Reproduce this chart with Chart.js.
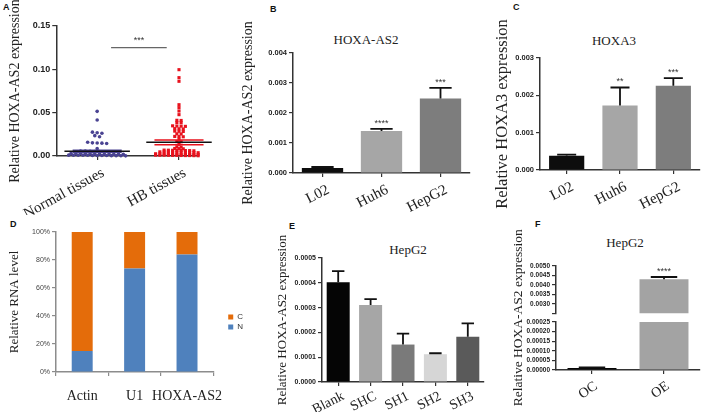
<!DOCTYPE html>
<html>
<head>
<meta charset="utf-8">
<script src="https://cdn.jsdelivr.net/npm/chart.js"></script>
<style>
  html, body { margin: 0; padding: 0; background: #fff; }
  #wrap { position: relative; width: 709px; height: 412px; overflow: hidden; }
  #wrap canvas { position: absolute; }
  .letter { position: absolute; font: bold 9px "Liberation Sans", Arial, sans-serif; color: #111; }
  .title { position: absolute; font: 13px "Liberation Serif", "Times New Roman", serif; color: #222;
           transform: translate(-50%, -50%); white-space: nowrap; }
</style>
</head>
<body>
<div id="wrap">
  <div class="letter" style="left:3px;top:2px">A</div>
  <div class="letter" style="left:270px;top:4px">B</div>
  <div class="letter" style="left:513px;top:2px">C</div>
  <div class="letter" style="left:10px;top:219px">D</div>
  <div class="letter" style="left:289px;top:221px">E</div>
  <div class="letter" style="left:535px;top:219px">F</div>
  <div class="title" style="left:366px;top:40px">HOXA-AS2</div>
  <div class="title" style="left:614px;top:41px">HOXA3</div>
  <div class="title" style="left:408px;top:250px">HepG2</div>
  <div class="title" style="left:625px;top:243px">HepG2</div>
</div>
<script>
const SERIF = '"Liberation Serif", "Times New Roman", serif';
const SANS = '"Liberation Sans", Arial, sans-serif';

// ---- A: HOXA-AS2 in tissues (dot plot) ----
const groupsA = ['Normal tissues', 'HB tissues'];
const normalTissues = [
  0.0515, 0.0415, 0.0275, 0.0268, 0.0262, 0.0235, 0.0222,
  0.0158, 0.0152, 0.0150, 0.0148, 0.0145, 0.0085,
  0.0058, 0.0056, 0.0054, 0.0052, 0.0050, 0.0049, 0.0047, 0.0046,
  0.0030, 0.0029, 0.0028, 0.0027, 0.0026, 0.0025, 0.0024, 0.0023, 0.0022, 0.0021, 0.0020, 0.0019,
  0.0010, 0.0009, 0.0009, 0.0008, 0.0008, 0.0007, 0.0006, 0.0006, 0.0005, 0.0004, 0.0004, 0.0003, 0.0002
];
const hbTissues = [
  0.0996, 0.0904, 0.0862, 0.0592, 0.0558, 0.0519, 0.0477,
  0.0412, 0.0410, 0.0386, 0.0384, 0.0348, 0.0346, 0.0344, 0.0342,
  0.0316, 0.0314, 0.0312, 0.0287, 0.0285, 0.0283, 0.0256, 0.0254,
  0.0226, 0.0224, 0.0222, 0.0195, 0.0166, 0.0164, 0.0135, 0.0106, 0.0104,
  0.0087, 0.0085, 0.0083,
  0.0068, 0.0067, 0.0066, 0.0065, 0.0064, 0.0063, 0.0062, 0.0060,
  0.0048, 0.0047, 0.0046, 0.0045, 0.0044, 0.0043, 0.0042, 0.0041, 0.0040, 0.0038,
  0.0026, 0.0025, 0.0024, 0.0023, 0.0022, 0.0021, 0.0020, 0.0019, 0.0018, 0.0018, 0.0017, 0.0016,
  0.0010, 0.0009, 0.0009, 0.0008, 0.0007, 0.0007, 0.0006, 0.0005, 0.0005, 0.0004, 0.0003, 0.0002
];
const meanA = [0.0054, 0.0158];
const semA = [0.0012, 0.0027];
const sigA = { from: 1.17, to: 1.85, level: 0.125, label: '***' };

// ---- B / C: cell lines ----
const cellLines = ['L02', 'Huh6', 'HepG2'];
const hoxaAs2Cells = [0.000167, 0.0014, 0.00248];
const hoxaAs2Err = [0.000033, 0.00007, 0.00036];
const hoxaAs2Stars = ['', '****', '***'];
const hoxa3Cells = [0.00038, 0.00173, 0.00226];
const hoxa3Err = [0.00003, 0.00048, 0.0002];
const hoxa3Stars = ['', '**', '***'];

// ---- D: nuclear / cytoplasmic fractions ----
const fractions = ['Actin', 'U1', 'HOXA-AS2'];
const nuclearPct = [15, 74, 84];
const cytoPct = [85, 26, 16];

// ---- E: knockdown ----
const shGroups = ['Blank', 'SHC', 'SH1', 'SH2', 'SH3'];
const shValues = [0.000402, 0.00031, 0.000151, 0.000112, 0.000182];
const shErr = [0.000045, 0.000024, 0.000044, 0.000004, 0.000054];

// ---- F: overexpression (broken axis) ----
const oeGroups = ['OC', 'OE'];
const oeValues = [0.00001, 0.0043];
const oeErr = [0.000003, 0.00012];
const oeStars = ['', '****'];
const breakLow = 0.00025, breakHigh = 0.0025, topMax = 0.005;

// ---- colours ----
const NORMAL_COLOR = '#4a4392';
const HB_COLOR = '#e8121d';
const cellColors = ['#0d0d0d', '#a6a6a6', '#7d7d7d'];
const shColors = ['#050505', '#a6a6a6', '#7a7a7a', '#d6d6d6', '#5a5a5a'];
const oeColors = ['#050505', '#a3a3a3'];

// ---- panel geometry (page pixels) ----
const panels = {
  A: { left: 0, top: 0, w: 230, h: 215, area: { left: 51, top: 26, right: 197, bottom: 156 } },
  B: { left: 238, top: 0, w: 242, h: 215, area: { left: 293, top: 53, right: 470, bottom: 173 } },
  C: { left: 491, top: 0, w: 218, h: 215, area: { left: 540, top: 58, right: 700, bottom: 170 } },
  D: { left: 5, top: 205, w: 248, h: 207, area: { left: 56, top: 232, right: null, bottom: 372 } },
  E: { left: 273, top: 205, w: 217, h: 207, area: { left: 322, top: 258, right: 484, bottom: 382 } },
  F: { left: 508, top: 205, w: 201, h: 207, area: { left: 556, top: 266, right: 700, bottom: 370 } }
};

Chart.defaults.animation = false;
Chart.defaults.events = [];
Chart.defaults.font.family = SANS;
Chart.defaults.plugins.legend.display = false;
Chart.defaults.plugins.tooltip.enabled = false;

function makeCanvas(key) {
  const p = panels[key];
  const c = document.createElement('canvas');
  c.width = p.w; c.height = p.h;
  c.style.left = p.left + 'px'; c.style.top = p.top + 'px';
  document.getElementById('wrap').appendChild(c);
  return c;
}
function geom(key) {
  const p = panels[key];
  return {
    yw: p.area.left - p.left,
    xh: p.top + p.h - p.area.bottom,
    padding: { left: 0, top: p.area.top - p.top, bottom: 0,
               right: p.area.right == null ? 0 : p.left + p.w - p.area.right }
  };
}

function yAxis(o) {
  return {
    type: 'linear',
    min: o.min, max: o.max,
    border: { display: true, color: o.color || '#333', width: 1.5 },
    grid: { display: true, drawOnChartArea: false, drawTicks: true, tickLength: 4,
            color: o.color || '#333', lineWidth: 1.2 },
    ticks: { stepSize: o.step, autoSkip: false, color: o.tickColor || '#222', padding: 2,
             font: { family: SANS, size: o.size || 7.5, weight: o.weight || 'bold' },
             callback: o.callback || (v => v.toFixed(o.digits)) },
    title: { display: !!o.title, text: o.title, color: '#222',
             font: { family: SERIF, size: o.titleSize || 14 }, padding: { top: 2, bottom: 0 } },
    afterFit: s => { s.width = o.width; }
  };
}
function xCat(o) {
  return {
    type: 'category',
    offset: true,
    border: { display: true, color: o.color || '#333', width: 1.5 },
    grid: { display: true, drawOnChartArea: false, offset: !!o.gridOffset, tickLength: 4,
            color: o.color || '#333', lineWidth: 1.2 },
    ticks: { autoSkip: false, minRotation: o.rot, maxRotation: o.rot, color: '#222',
             labelOffset: o.shift || 0,
             padding: o.pad == null ? 4 : o.pad, font: { family: SERIF, size: o.size || 14 } },
    afterFit: s => { s.height = o.height; }
  };
}

// error bars + significance stars for bar datasets
const errorBars = {
  id: 'errorBars',
  afterDatasetsDraw(chart) {
    const ctx = chart.ctx;
    chart.data.datasets.forEach((ds, i) => {
      if (!ds.errorPlus) return;
      const meta = chart.getDatasetMeta(i);
      const ys = chart.scales[meta.yAxisID];
      meta.data.forEach((bar, j) => {
        const err = ds.errorPlus[j], raw = ds.data[j];
        if (err == null || raw == null) return;
        const top = Array.isArray(raw) ? raw[1] : raw;
        const y0 = ys.getPixelForValue(top), y1 = ys.getPixelForValue(top + err);
        const half = bar.width * 0.27;
        ctx.save();
        ctx.strokeStyle = '#111';
        ctx.lineWidth = 1.8;
        ctx.beginPath();
        ctx.moveTo(bar.x, y0); ctx.lineTo(bar.x, y1);
        ctx.moveTo(bar.x - half, y1); ctx.lineTo(bar.x + half, y1);
        ctx.stroke();
        const star = ds.stars && ds.stars[j];
        if (star) {
          ctx.fillStyle = '#333';
          ctx.font = '9px ' + SANS;
          ctx.textAlign = 'center';
          ctx.textBaseline = 'bottom';
          ctx.fillText(star, bar.x, y1 - 1);
        }
        ctx.restore();
      });
    });
  }
};
Chart.register(errorBars);

// simple column-scatter layout: values in the same band are spread sideways
function swarm(values, center, band, step) {
  const sorted = [...values].sort((a, b) => b - a);
  const pts = [];
  let i = 0;
  while (i < sorted.length) {
    let j = i;
    while (j < sorted.length && sorted[i] - sorted[j] < band) j++;
    const row = sorted.slice(i, j);
    row.forEach((v, k) => pts.push({ x: center + (k - (row.length - 1) / 2) * step, y: v }));
    i = j;
  }
  return pts;
}

// ---------- A ----------
(function () {
  const g = geom('A');
  const meanSem = {
    id: 'meanSem',
    afterDatasetsDraw(chart) {
      const { ctx, scales: { x, y } } = chart;
      ctx.save();
      meanA.forEach((m, i) => {
        const cx = i + 1, col = i === 0 ? NORMAL_COLOR : HB_COLOR;
        ctx.strokeStyle = col; ctx.lineWidth = 1.5;
        ctx.beginPath();
        [m - semA[i], m + semA[i]].forEach(v => {
          ctx.moveTo(x.getPixelForValue(cx - 0.3), y.getPixelForValue(v));
          ctx.lineTo(x.getPixelForValue(cx + 0.3), y.getPixelForValue(v));
        });
        ctx.moveTo(x.getPixelForValue(cx), y.getPixelForValue(m - semA[i]));
        ctx.lineTo(x.getPixelForValue(cx), y.getPixelForValue(m + semA[i]));
        ctx.stroke();
        ctx.strokeStyle = '#111'; ctx.lineWidth = 1.5;
        ctx.beginPath();
        ctx.moveTo(x.getPixelForValue(cx - 0.4), y.getPixelForValue(m));
        ctx.lineTo(x.getPixelForValue(cx + 0.4), y.getPixelForValue(m));
        ctx.stroke();
      });
      const ly = y.getPixelForValue(sigA.level);
      ctx.strokeStyle = '#666'; ctx.lineWidth = 1.2;
      ctx.beginPath();
      ctx.moveTo(x.getPixelForValue(sigA.from), ly);
      ctx.lineTo(x.getPixelForValue(sigA.to), ly);
      ctx.stroke();
      ctx.fillStyle = '#333'; ctx.font = '9px ' + SANS;
      ctx.textAlign = 'center'; ctx.textBaseline = 'bottom';
      ctx.fillText(sigA.label, x.getPixelForValue((sigA.from + sigA.to) / 2), ly - 3);
      ctx.restore();
    }
  };
  new Chart(makeCanvas('A'), {
    type: 'scatter',
    data: {
      datasets: [
        { data: swarm(normalTissues, 1, 0.0015, 0.058), backgroundColor: NORMAL_COLOR,
          borderWidth: 0, pointRadius: 1.8, pointStyle: 'circle', clip: false },
        { data: swarm(hbTissues, 2, 0.0015, 0.052), backgroundColor: HB_COLOR,
          borderWidth: 0, pointRadius: 2.2, pointStyle: 'rect', clip: false }
      ]
    },
    options: {
      responsive: false,
      layout: { padding: g.padding },
      scales: {
        x: {
          type: 'linear', min: 0.5, max: 2.22,
          border: { display: true, color: '#333', width: 1.5 },
          grid: { display: true, drawOnChartArea: false, tickLength: 4, color: '#333', lineWidth: 1.2 },
          afterBuildTicks: axis => { axis.ticks = groupsA.map((_, i) => ({ value: i + 1 })); },
          ticks: { autoSkip: false, minRotation: 29, maxRotation: 29, color: '#222', padding: 4,
                   labelOffset: 6,
                   font: { family: SERIF, size: 15 }, callback: v => groupsA[v - 1] || '' },
          afterFit: s => { s.height = g.xh; }
        },
        y: yAxis({ min: 0, max: 0.15, step: 0.05, digits: 2, size: 9, width: g.yw,
                   title: 'Relative HOXA-AS2 expression', titleSize: 14 })
      }
    },
    plugins: [meanSem]
  });
})();

// ---------- B ----------
(function () {
  const g = geom('B');
  new Chart(makeCanvas('B'), {
    type: 'bar',
    data: {
      labels: cellLines,
      datasets: [{ data: hoxaAs2Cells, backgroundColor: cellColors, barPercentage: 0.7,
                   categoryPercentage: 1, errorPlus: hoxaAs2Err, stars: hoxaAs2Stars }]
    },
    options: {
      responsive: false,
      layout: { padding: g.padding },
      scales: {
        x: xCat({ rot: 27, size: 15, height: g.xh, shift: 6 }),
        y: yAxis({ min: 0, max: 0.004, step: 0.001, digits: 3, size: 7.5, width: g.yw,
                   title: 'Relative HOXA-AS2 expression', titleSize: 14 })
      }
    }
  });
})();

// ---------- C ----------
(function () {
  const g = geom('C');
  new Chart(makeCanvas('C'), {
    type: 'bar',
    data: {
      labels: cellLines,
      datasets: [{ data: hoxa3Cells, backgroundColor: cellColors, barPercentage: 0.66,
                   categoryPercentage: 1, errorPlus: hoxa3Err, stars: hoxa3Stars }]
    },
    options: {
      responsive: false,
      layout: { padding: g.padding },
      scales: {
        x: xCat({ rot: 27, size: 15, height: g.xh, shift: 6 }),
        y: yAxis({ min: 0, max: 0.003, step: 0.001, digits: 3, size: 7.5, width: g.yw,
                   title: 'Relative HOXA3 expression', titleSize: 16.5 })
      }
    }
  });
})();

// ---------- D ----------
(function () {
  const g = geom('D');
  new Chart(makeCanvas('D'), {
    type: 'bar',
    data: {
      labels: fractions,
      datasets: [
        { label: 'N', data: nuclearPct, backgroundColor: '#4f81bd', barPercentage: 0.4, categoryPercentage: 1 },
        { label: 'C', data: cytoPct, backgroundColor: '#e46c0a', barPercentage: 0.4, categoryPercentage: 1 }
      ]
    },
    options: {
      responsive: false,
      layout: { padding: g.padding },
      plugins: {
        legend: {
          display: true, position: 'right', reverse: true,
          labels: { boxWidth: 5, boxHeight: 5, padding: 2, color: '#333', font: { family: SANS, size: 8 } }
        }
      },
      scales: {
        x: Object.assign(xCat({ rot: 0, size: 14, height: g.xh, gridOffset: true, color: '#8c8c8c', pad: 12 }), { stacked: true }),
        y: Object.assign(yAxis({ min: 0, max: 100, step: 20, width: g.yw, size: 7, weight: 'normal',
                                 color: '#8c8c8c', tickColor: '#444', callback: v => v + '%',
                                 title: 'Relative RNA level', titleSize: 13 }), { stacked: true }),
        yPad: { type: 'linear', position: 'right', display: true, grid: { display: false },
                border: { display: false }, ticks: { display: false }, afterFit: s => { s.width = 13; } }
      }
    }
  });
})();

// ---------- E ----------
(function () {
  const g = geom('E');
  new Chart(makeCanvas('E'), {
    type: 'bar',
    data: {
      labels: shGroups,
      datasets: [{ data: shValues, backgroundColor: shColors, barPercentage: 0.71,
                   categoryPercentage: 1, errorPlus: shErr }]
    },
    options: {
      responsive: false,
      layout: { padding: g.padding },
      scales: {
        x: xCat({ rot: 27, size: 14, height: g.xh, pad: 2, shift: 5 }),
        y: yAxis({ min: 0, max: 0.0005, step: 0.0001, digits: 4, size: 7, width: g.yw,
                   title: 'Relative HOXA-AS2 expression', titleSize: 13 })
      }
    }
  });
})();

// ---------- F ----------
(function () {
  const g = geom('F');
  const lowPart = oeValues.map(v => Math.min(v, breakLow));
  const highPart = oeValues.map(v => (v > breakHigh ? [breakHigh, v] : null));
  const lowErr = oeValues.map((v, i) => (v <= breakLow ? oeErr[i] : null));
  const highErr = oeValues.map((v, i) => (v > breakHigh ? oeErr[i] : null));
  const bar = { backgroundColor: oeColors, barPercentage: 0.68, categoryPercentage: 1, grouped: false };
  new Chart(makeCanvas('F'), {
    type: 'bar',
    data: {
      labels: oeGroups,
      datasets: [
        Object.assign({ data: lowPart, yAxisID: 'yLow', errorPlus: lowErr }, bar),
        Object.assign({ data: highPart, yAxisID: 'yHigh', errorPlus: highErr, stars: oeStars }, bar)
      ]
    },
    options: {
      responsive: false,
      layout: { padding: g.padding },
      scales: {
        x: xCat({ rot: 35, size: 14, height: g.xh, shift: 4 }),
        yLow: Object.assign(yAxis({ min: 0, max: breakLow, step: 0.00005, digits: 5, size: 6.5, width: g.yw }),
                            { stack: 'f', stackWeight: 48 }),
        yGap: { type: 'linear', position: 'left', stack: 'f', stackWeight: 8.5, display: true,
                grid: { display: false }, border: { display: false }, ticks: { display: false },
                title: { display: true, text: 'Relative HOXA-AS2 expression', color: '#222',
                         font: { family: SERIF, size: 13.5 }, padding: { top: 2, bottom: 0 } },
                afterFit: s => { s.width = g.yw; } },
        yHigh: Object.assign(yAxis({ min: breakHigh, max: topMax, step: 0.0005, size: 6.5, width: g.yw,
                                     callback: v => (v < 0.0029 ? '' : v.toFixed(4)) }),
                             { stack: 'f', stackWeight: 47.5 })
      }
    }
  });
})();
</script>
</body>
</html>
